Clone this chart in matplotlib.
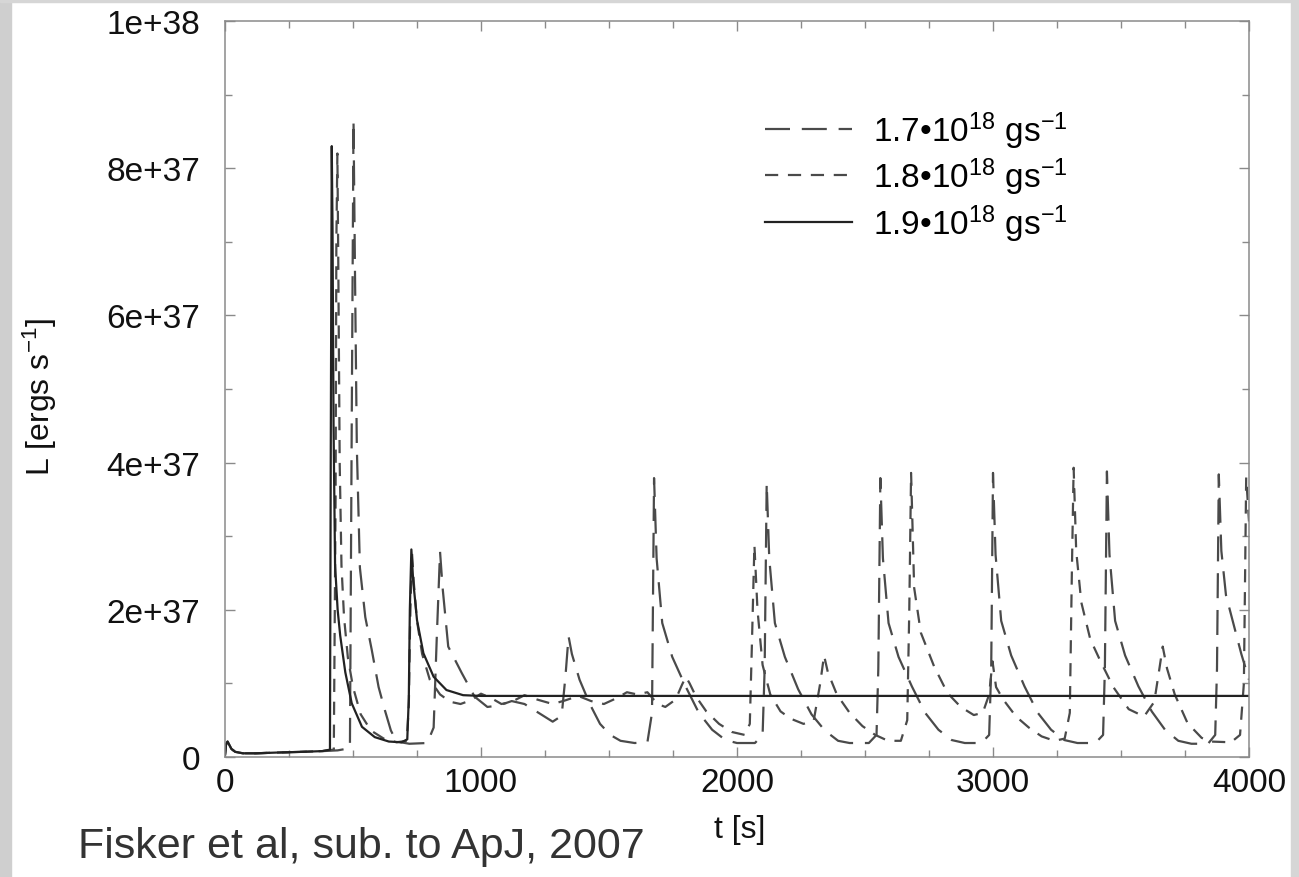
import numpy as np
import matplotlib
matplotlib.use('Agg')
from matplotlib import pyplot as plt
from matplotlib.patches import Rectangle

plt.rcParams['font.family'] = ['Liberation Sans', 'DejaVu Sans']
plt.rcParams['mathtext.fontset'] = 'custom'
plt.rcParams['mathtext.rm'] = 'Liberation Sans'
plt.rcParams['mathtext.it'] = 'Liberation Sans:italic'
plt.rcParams['mathtext.bf'] = 'Liberation Sans:bold'
plt.rcParams['lines.scale_dashes'] = False

# luminosity in units of 1e37 erg/s, time in s
t17 = [0, 4, 10, 16, 25, 40, 70, 120, 200, 300, 380, 440, 488, 495, 502, 508, 515, 527, 548,
       573, 600, 625, 648, 670, 720, 790, 815, 827, 840, 850, 872, 925, 975, 1025, 1070, 1120,
       1170, 1225, 1280, 1315, 1330, 1342, 1355, 1385, 1425, 1465, 1505, 1545, 1600, 1650, 1668,
       1676, 1686, 1708, 1747, 1799, 1851, 1903, 1955, 2000, 2070, 2100, 2108, 2116, 2126, 2148,
       2187, 2239, 2291, 2343, 2395, 2440, 2515, 2545, 2552, 2560, 2570, 2592, 2631, 2683, 2735,
       2787, 2839, 2890, 2955, 2985, 2993, 3000, 3010, 3032, 3071, 3123, 3175, 3227, 3279, 3330,
       3400, 3430, 3437, 3445, 3455, 3477, 3516, 3568, 3620, 3672, 3724, 3775, 3840, 3868, 3875,
       3882, 3892, 3910, 3940, 3970, 4000]
L17 = [0.03, 0.17, 0.21, 0.17, 0.11, 0.07, 0.05, 0.05, 0.06, 0.07, 0.08, 0.09, 0.12, 4.5, 8.65,
       6.5, 4.2, 2.57, 1.9, 1.46, 0.95, 0.63, 0.36, 0.21, 0.18, 0.19, 0.4, 1.6, 2.79, 2.3, 1.5,
       1.14, 0.82, 0.68, 0.7, 0.76, 0.72, 0.6, 0.48, 0.56, 1.1, 1.64, 1.4, 1.05, 0.72, 0.45, 0.3,
       0.22, 0.19, 0.2, 0.6, 3.79, 2.7, 1.82, 1.36, 0.96, 0.6, 0.37, 0.23, 0.19, 0.19, 0.3, 1.2,
       3.72, 2.7, 1.82, 1.36, 0.92, 0.58, 0.36, 0.22, 0.19, 0.19, 0.3, 1.2, 3.79, 2.7, 1.82, 1.36,
       0.96, 0.6, 0.37, 0.23, 0.19, 0.19, 0.3, 1.2, 3.86, 2.75, 1.85, 1.38, 0.96, 0.6, 0.37, 0.23,
       0.19, 0.19, 0.3, 1.2, 3.88, 2.75, 1.85, 1.38, 0.96, 0.62, 0.37, 0.22, 0.18, 0.18, 0.3, 1.2,
       3.84, 2.8, 2.2, 1.8, 1.4, 1.05]

t18 = [0, 4, 10, 16, 25, 40, 70, 120, 200, 300, 380, 425, 432, 435, 439, 443, 448, 455, 465,
       480, 500, 530, 570, 620, 670, 710, 718, 723, 730, 738, 750, 770, 800, 840, 880, 920, 960,
       1000, 1040, 1080, 1120, 1170, 1220, 1280, 1330, 1380, 1430, 1480, 1530, 1570, 1610, 1650,
       1690, 1720, 1760, 1785, 1800, 1815, 1840, 1880, 1930, 1980, 2030, 2050, 2058, 2068, 2080,
       2100, 2130, 2170, 2210, 2260, 2300, 2325, 2340, 2355, 2390, 2440, 2490, 2540, 2590, 2640,
       2665, 2673, 2680, 2692, 2718, 2770, 2822, 2874, 2925, 2960, 2985, 2998, 3012, 3040, 3090,
       3140, 3190, 3240, 3280, 3300, 3308, 3315, 3325, 3345, 3380, 3420, 3470, 3530, 3590, 3630,
       3650, 3663, 3680, 3710, 3760, 3815, 3850, 3930, 3965, 3980, 3989, 4000]
L18 = [0.03, 0.17, 0.21, 0.17, 0.11, 0.07, 0.05, 0.05, 0.06, 0.07, 0.08, 0.1, 3.5, 7.0, 8.2,
       6.5, 4.0, 2.6, 1.9, 1.35, 0.95, 0.58, 0.36, 0.25, 0.2, 0.22, 0.7, 1.8, 2.8, 2.35, 1.85,
       1.4, 1.05, 0.85, 0.75, 0.72, 0.77, 0.86, 0.8, 0.72, 0.75, 0.84, 0.78, 0.72, 0.77, 0.83,
       0.76, 0.72, 0.8, 0.88, 0.85, 0.88, 0.72, 0.68, 0.78, 0.98, 1.09, 1.0, 0.82, 0.62, 0.45,
       0.34, 0.3, 0.45, 1.5, 2.88, 2.0, 1.25, 0.85, 0.62, 0.52, 0.45, 0.5, 1.0, 1.38, 1.15, 0.85,
       0.6, 0.42, 0.3, 0.22, 0.22, 0.5, 2.0, 3.86, 2.3, 1.69, 1.23, 0.87, 0.68, 0.57, 0.6, 0.85,
       1.3, 0.95, 0.78, 0.55, 0.4, 0.28, 0.22, 0.25, 0.6, 2.5, 3.93, 2.8, 2.1, 1.6, 1.3, 0.95,
       0.65, 0.55, 0.75, 1.2, 1.5, 1.2, 0.85, 0.46, 0.26, 0.21, 0.2, 0.3, 1.0, 3.8, 3.2]

t19 = [0, 4, 10, 16, 25, 40, 70, 120, 200, 300, 380, 410, 413, 417, 420, 424, 430, 440, 450,
       470, 495, 535, 585, 640, 690, 712, 718, 722, 728, 735, 750, 775, 815, 865, 930, 1000, 4000]
L19 = [0.03, 0.17, 0.21, 0.17, 0.11, 0.07, 0.05, 0.05, 0.06, 0.07, 0.08, 0.1, 4.0, 8.3, 7.2,
       4.5, 2.6, 2.0, 1.65, 1.15, 0.73, 0.41, 0.27, 0.21, 0.2, 0.24, 0.8, 2.0, 2.82, 2.4, 1.86,
       1.41, 1.09, 0.91, 0.84, 0.83, 0.83]

labels = ['1.7\u202210$^{18}$ gs$^{-1}$',
          '1.8\u202210$^{18}$ gs$^{-1}$',
          '1.9\u202210$^{18}$ gs$^{-1}$']

y_ticks = [0, 2e37, 4e37, 6e37, 8e37, 1e38]
y_ticklabels = ['0', '2e+37', '4e+37', '6e+37', '8e+37', '1e+38']
x_ticks = [0, 1000, 2000, 3000, 4000]

W, H = 1299, 878
fig = plt.figure(figsize=(W / 100, H / 100), dpi=100)
fig.patch.set_facecolor('white')
# grey border of the slide
fig.add_artist(Rectangle((0, 0), 11 / W, 1, transform=fig.transFigure, color='#cfcfcf', zorder=-5))
fig.add_artist(Rectangle((0, 1 - 3 / H), 1, 3 / H, transform=fig.transFigure, color='#d6d6d6', zorder=-5))
fig.add_artist(Rectangle((1291 / W, 0), 8 / W, 1, transform=fig.transFigure, color='#d6d6d6', zorder=-5))

ax = fig.add_axes([225 / W, 1 - 758 / H, 1024 / W, 736 / H])

c_dash = '#4a4a4a'
c_solid = '#222222'
ax.plot(t17, np.array(L17) * 1e37, color=c_dash, lw=1.6, dashes=(18, 8.5), label=labels[0])
ax.plot(t18, np.array(L18) * 1e37, color=c_dash, lw=1.6, dashes=(9.5, 7), label=labels[1])
ax.plot(t19, np.array(L19) * 1e37, color=c_solid, lw=1.6, label=labels[2])

ax.set_xlim(0, 4000)
ax.set_ylim(0, 1e38)
ax.set_xticks(x_ticks)
ax.set_xticklabels([str(x) for x in x_ticks])
ax.set_xticks(np.arange(0, 4001, 250), minor=True)
ax.set_yticks(y_ticks)
ax.set_yticklabels(y_ticklabels)
ax.set_yticks(np.arange(0, 1.01e38, 1e37), minor=True)

frame_c = '#8a8a8a'
for s in ax.spines.values():
    s.set_color(frame_c)
    s.set_linewidth(1.1)
ax.tick_params(which='both', direction='in', top=True, right=True, color=frame_c, width=1)
ax.tick_params(which='major', length=7)
ax.tick_params(which='minor', length=5)
ax.tick_params(axis='x', labelsize=24, pad=7, labelcolor='#111111')
ax.tick_params(axis='y', labelsize=24, pad=18, labelcolor='#111111')

ax.set_ylabel('L [ergs s$^{-1}$]', fontsize=23, color='#111111')
ax.yaxis.set_label_coords(-0.162, 0.49)
ax.set_xlabel('t [s]', fontsize=23, color='#111111')
ax.xaxis.set_label_coords(0.503, -0.078)

leg = ax.legend(loc='upper left', bbox_to_anchor=(765 / W, 1 - 110 / H), bbox_transform=fig.transFigure,
                frameon=False, fontsize=24, handlelength=2.6, handletextpad=0.65, labelspacing=0.15,
                borderpad=0, borderaxespad=0)

fig.text(78 / W, 1 - 858 / H, 'Fisker et al, sub. to ApJ, 2007', fontsize=31, color='#333333',
         ha='left', va='baseline')

fig.savefig('out.png', dpi=100)
